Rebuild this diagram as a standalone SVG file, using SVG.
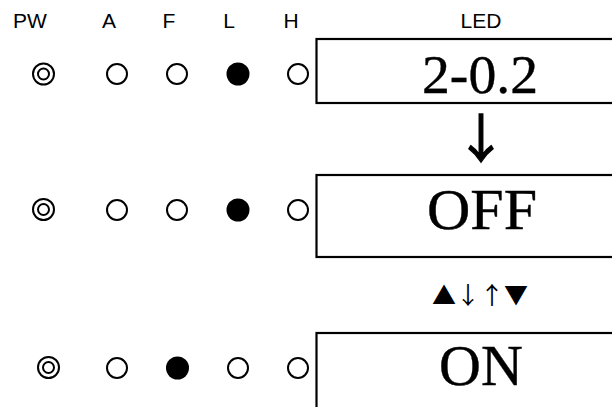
<svg xmlns="http://www.w3.org/2000/svg" width="612" height="407" viewBox="0 0 612 407">
<style>
.lbl{font-family:"Liberation Sans",Arial,sans-serif;font-size:21px;fill:#000;text-anchor:middle}
.big{font-family:"Liberation Serif","Times New Roman",serif;fill:#000;stroke:#000;stroke-width:0.4;text-anchor:middle}
.sym{font-family:"Noto Sans CJK JP","DejaVu Sans",sans-serif;fill:#000;text-anchor:middle}
.box{fill:none;stroke:#000;stroke-width:2.2}
.off{fill:#fff;stroke:#000;stroke-width:2}
.on{fill:#000;stroke:none}
</style>
<rect width="612" height="407" fill="#fff"/>
<g id="labels">
<text class="lbl" x="30" y="28">PW</text>
<text class="lbl" x="109" y="28">A</text>
<text class="lbl" x="169" y="28">F</text>
<text class="lbl" x="229" y="28">L</text>
<text class="lbl" x="291" y="28">H</text>
<text class="lbl" x="481" y="28">LED</text>
</g>
<g id="row1">
<circle class="off" cx="43.5" cy="74" r="10.5"/><circle class="off" cx="43.5" cy="74" r="5.5"/>
<circle class="off" cx="117" cy="74" r="10"/>
<circle class="off" cx="177" cy="74" r="10"/>
<circle class="on" cx="238" cy="74" r="11.5"/>
<circle class="off" cx="298" cy="74" r="10"/>
</g>
<g id="display1">
<rect class="box" x="316.5" y="39" width="400" height="64"/>
<text class="big" x="480" y="93" font-size="55" textLength="116" lengthAdjust="spacingAndGlyphs">2-0.2</text>
</g>
<g id="row2">
<circle class="off" cx="43.5" cy="209.5" r="10.5"/><circle class="off" cx="43.5" cy="209.5" r="5.5"/>
<circle class="off" cx="117" cy="210" r="10"/>
<circle class="off" cx="177" cy="210" r="10"/>
<circle class="on" cx="238" cy="210" r="11.5"/>
<circle class="off" cx="298" cy="210" r="10"/>
</g>
<g id="display2">
<rect class="box" x="316.5" y="175" width="400" height="82"/>
<text class="big" x="482" y="229" font-size="58" textLength="110" lengthAdjust="spacingAndGlyphs">OFF</text>
</g>
<g id="row3">
<circle class="off" cx="48.5" cy="367.5" r="10.5"/><circle class="off" cx="48.5" cy="367.5" r="5.5"/>
<circle class="off" cx="117" cy="368" r="10"/>
<circle class="on" cx="177.5" cy="368" r="11.5"/>
<circle class="off" cx="238" cy="368" r="10"/>
<circle class="off" cx="298" cy="368" r="10"/>
</g>
<g id="display3">
<rect class="box" x="316.5" y="333" width="400" height="120"/>
<text class="big" x="481" y="385" font-size="58">ON</text>
</g>
<g id="connectors">
<text class="sym" x="481" y="158" font-size="52" stroke="#000" stroke-width="1.4">↓</text>
<text class="sym" x="480" y="304" font-size="24">▲↓↑▼</text>
</g>
</svg>
